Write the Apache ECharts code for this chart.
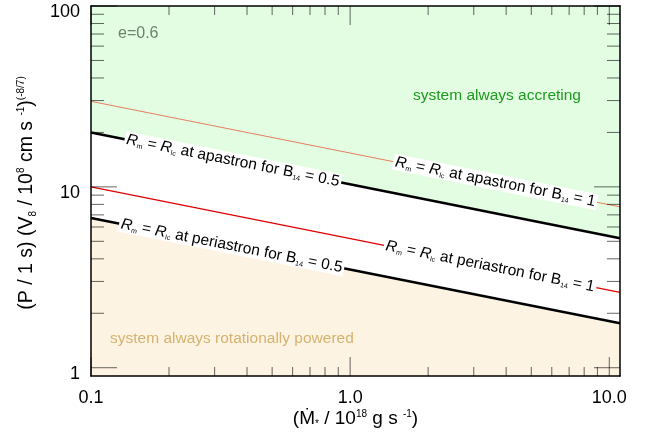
<!DOCTYPE html>
<html>
<head>
<meta charset="utf-8">
<script src="https://cdn.jsdelivr.net/npm/echarts@6/dist/echarts.min.js"></script>
<style>
  html, body { margin: 0; padding: 0; background: #fff; }
  #chart { width: 652px; height: 436px; }
</style>
</head>
<body>
<div id="chart"></div>
<script>
// Axis ranges: accretion rate (10^18 g/s) and scaled spin period (s)
const xRange = [0.1, 11];
const yRange = [0.9, 100];

// Boundary lines R_m = R_lc, given by their values at both ends of the accretion-rate range
const apastronB05 = [[0.1, 20.0], [11, 5.2]];
const apastronB1 = [[0.1, 29.7], [11, 7.75]];
const periastronB05 = [[0.1, 6.73], [11, 1.76]];
const periastronB1 = [[0.1, 10.0], [11, 2.61]];

// Tick values
const xMajorTicks = [0.1, 1, 10];
const xMinorTicks = [0.2, 0.3, 0.4, 0.5, 0.6, 0.7, 0.8, 0.9, 2, 3, 4, 5, 6, 7, 8, 9];
const yMajorTicks = [1, 10, 100];
const yMinorTicks = [2, 3, 4, 5, 6, 7, 8, 9, 20, 30, 40, 50, 60, 70, 80, 90];

// Line captions and the accretion rate at which each one is centred
const captionAt = [0.353, 3.63, 0.349, 3.47];
const captionLines = [apastronB05, apastronB1, periastronB05, periastronB1];
const captionText = [
  '{r|R}{s|m} = {r|R}{s|lc} at apastron for B{s|14} = 0.5',
  '{r|R}{s|m} = {r|R}{s|lc} at apastron for B{s|14} = 1',
  '{r|R}{s|m} = {r|R}{s|lc} at periastron for B{s|14} = 0.5',
  '{r|R}{s|m} = {r|R}{s|lc} at periastron for B{s|14} = 1'
];

const FONT = '"Liberation Sans", Arial, Helvetica, sans-serif';
const TICK_COLOR = 'rgba(0,0,0,0.6)';

const isPow10 = v => Math.abs(Math.log10(v) - Math.round(Math.log10(v))) < 1e-6;

// Value on a straight log-log segment at accretion rate x
function onLine(line, x) {
  const lx0 = Math.log10(line[0][0]), lx1 = Math.log10(line[1][0]);
  const ly0 = Math.log10(line[0][1]), ly1 = Math.log10(line[1][1]);
  const t = (Math.log10(x) - lx0) / (lx1 - lx0);
  return Math.pow(10, ly0 + t * (ly1 - ly0));
}

const chart = echarts.init(document.getElementById('chart'), null, { renderer: 'canvas' });

const frameAxis = (extra) => Object.assign({
  type: 'log',
  logBase: 10,
  z: 10,
  axisLine: { show: true, onZero: false, lineStyle: { color: '#000', width: 1.5 } },
  axisTick: { show: false },
  minorTick: { show: false },
  splitLine: { show: false },
  minorSplitLine: { show: false },
  axisLabel: { show: false }
}, extra);

const titleRich = {
  sub: { fontSize: 10, verticalAlign: 'bottom', fontFamily: FONT, color: '#000' },
  sup: { fontSize: 10, verticalAlign: 'top', fontFamily: FONT, color: '#000' }
};

const xTickData = xMajorTicks.map(v => [v, yRange[1], 1]).concat(xMinorTicks.map(v => [v, yRange[1], 0]));
const yTickData = yMajorTicks.map(v => [xRange[1], v, 1]).concat(yMinorTicks.map(v => [xRange[1], v, 0]));

const option = {
  animation: false,
  backgroundColor: '#fff',
  grid: { left: 91, right: 32, top: 6, bottom: 60, containLabel: false },
  xAxis: [
    frameAxis({
      min: xRange[0], max: xRange[1], position: 'bottom',
      axisLabel: {
        show: true, margin: 13, fontSize: 18, color: '#000', fontFamily: FONT,
        showMinLabel: true, showMaxLabel: true,
        formatter: v => isPow10(v) ? v.toFixed(1) : ''
      },
      name: '(Ṁ{sub|*} / 10{sup|18} g s {sup|-1})',
      nameLocation: 'middle',
      nameGap: 33,
      nameMoveOverlap: false,
      nameTextStyle: { fontSize: 19, color: '#000', fontFamily: FONT, lineHeight: 20, rich: titleRich }
    }),
    frameAxis({ min: xRange[0], max: xRange[1], position: 'top' })
  ],
  yAxis: [
    frameAxis({
      min: yRange[0], max: yRange[1], position: 'left',
      axisLabel: {
        show: true, margin: 11, fontSize: 18, color: '#000', fontFamily: FONT,
        showMinLabel: true, showMaxLabel: true, verticalAlign: 'middle',
        formatter: v => isPow10(v) ? '{n|' + Math.round(v) + '}' : '',
        rich: { n: { fontSize: 18, fontFamily: FONT, color: '#000', padding: [12, 0, 0, 0] } }
      },
      name: '(P / 1 s) (V{sub|8} / 10{sup|8} cm s {sup|-1}){sup|(-8/7)}',
      nameLocation: 'middle',
      nameRotate: 90,
      nameGap: 53,
      nameMoveOverlap: false,
      nameTextStyle: {
        fontSize: 19.5, color: '#000', fontFamily: FONT, lineHeight: 22,
        padding: [0, 4, 0, 0],
        rich: titleRich
      }
    }),
    frameAxis({ min: yRange[0], max: yRange[1], position: 'right' })
  ],
  graphic: [
    { type: 'text', x: 118, y: 34, z: 20,
      style: { text: 'e=0.6', font: '16px ' + FONT, fill: '#6f816f', align: 'left', verticalAlign: 'middle', textAlign: 'left', textVerticalAlign: 'middle' } },
    { type: 'text', x: 497, y: 96, z: 20,
      style: { text: 'system always accreting', font: '15.5px ' + FONT, fill: '#1e9a1e', align: 'center', verticalAlign: 'middle', textAlign: 'center', textVerticalAlign: 'middle' } },
    { type: 'text', x: 110, y: 339, z: 20,
      style: { text: 'system always rotationally powered', font: '15.5px ' + FONT, fill: '#d6b26f', align: 'left', verticalAlign: 'middle', textAlign: 'left', textVerticalAlign: 'middle' } }
  ],
  series: [
    // accreting region: above the apastron line for B14 = 0.5
    { type: 'line', data: apastronB05, symbol: 'none', silent: true, z: 1,
      lineStyle: { width: 0, opacity: 0 },
      areaStyle: { origin: 'end', color: '#e3fde3', opacity: 1 } },
    // rotationally powered region: below the periastron line for B14 = 0.5
    { type: 'line', data: periastronB05, symbol: 'none', silent: true, z: 1,
      lineStyle: { width: 0, opacity: 0 },
      areaStyle: { origin: 'start', color: '#fdf3e2', opacity: 1 } },
    { type: 'line', name: 'apastron B14=1', data: apastronB1, symbol: 'none', z: 3,
      lineStyle: { color: '#e8805c', width: 1 } },
    { type: 'line', name: 'periastron B14=1', data: periastronB1, symbol: 'none', z: 3,
      lineStyle: { color: '#e00000', width: 1.2 } },
    { type: 'line', name: 'apastron B14=0.5', data: apastronB05, symbol: 'none', z: 3,
      lineStyle: { color: '#000', width: 2.5 } },
    { type: 'line', name: 'periastron B14=0.5', data: periastronB05, symbol: 'none', z: 3,
      lineStyle: { color: '#000', width: 2.5 } },
    // ticks along the bottom and top edges
    { type: 'custom', z: 4, silent: true, clip: false, data: xTickData,
      renderItem(params, api) {
        const cs = params.coordSys;
        const px = api.coord([api.value(0), api.value(1)])[0];
        const len = api.value(2) ? 19 : 9;
        const bottom = cs.y + cs.height, top = cs.y;
        const style = { stroke: TICK_COLOR, lineWidth: 1 };
        return { type: 'group', children: [
          { type: 'line', shape: { x1: px, y1: bottom, x2: px, y2: bottom - len }, style },
          { type: 'line', shape: { x1: px, y1: top, x2: px, y2: top + len }, style }
        ] };
      } },
    // ticks along the left and right edges
    { type: 'custom', z: 4, silent: true, clip: false, data: yTickData,
      renderItem(params, api) {
        const cs = params.coordSys;
        const py = api.coord([api.value(0), api.value(1)])[1];
        const len = api.value(2) ? 26 : 13;
        const left = cs.x, right = cs.x + cs.width;
        const style = { stroke: TICK_COLOR, lineWidth: 1 };
        return { type: 'group', children: [
          { type: 'line', shape: { x1: left, y1: py, x2: left + len, y2: py }, style },
          { type: 'line', shape: { x1: right, y1: py, x2: right - len, y2: py }, style }
        ] };
      } },
    // captions laid along each boundary line
    { type: 'custom', z: 6, silent: true, clip: false,
      data: captionAt.map((x, i) => [x, onLine(captionLines[i], x)]),
      renderItem(params, api) {
        const i = params.dataIndex;
        const line = captionLines[i];
        const p = api.coord([api.value(0), api.value(1)]);
        const a = api.coord(line[0]), b = api.coord(line[1]);
        const angle = Math.atan2(b[1] - a[1], b[0] - a[0]);
        return {
          type: 'text', x: p[0], y: p[1], rotation: -angle,
          style: {
            text: captionText[i],
            fontSize: 15.5, fontFamily: FONT, fill: '#000',
            lineHeight: 16,
            align: 'center', verticalAlign: 'middle',
            backgroundColor: '#fff', padding: [0, 2, 0, 2],
            rich: {
              r: { fontSize: 15.5, fontStyle: 'italic', fontFamily: FONT, fill: '#000', lineHeight: 16 },
              s: { fontSize: 7, fontFamily: FONT, fill: '#000', verticalAlign: 'bottom', lineHeight: 16 }
            }
          }
        };
      } }
  ]
};

chart.setOption(option);
</script>
</body>
</html>
